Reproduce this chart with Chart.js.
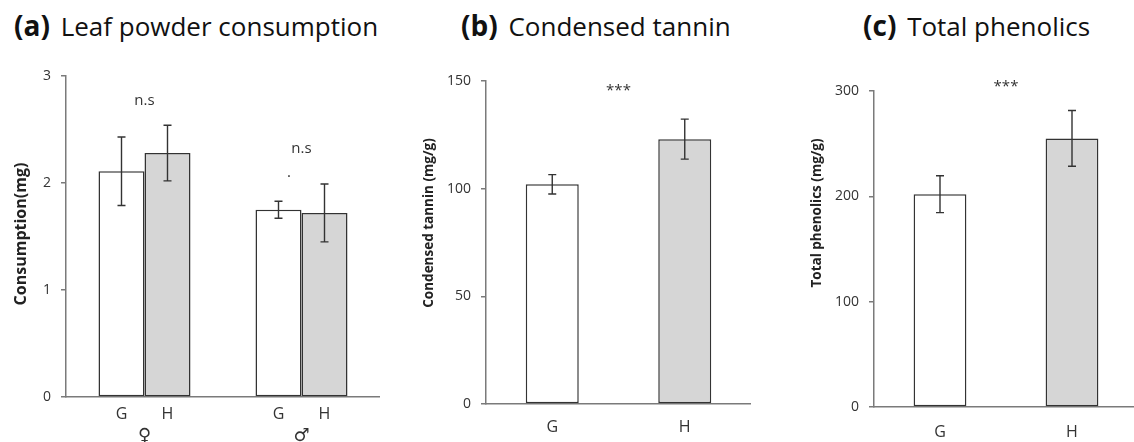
<!DOCTYPE html>
<html>
<head>
<meta charset="utf-8">
<script src="https://cdn.jsdelivr.net/npm/chart.js@4.4.1/dist/chart.umd.min.js"></script>
<style>
  html, body { margin: 0; padding: 0; background: #fff; }
  body { width: 1134px; height: 442px; overflow: hidden; position: relative; font-family: "Open Sans", sans-serif; color: #222; }
  canvas { position: absolute; top: 0; }
  .ttl { position: absolute; top: 6px; font-size: 26px; white-space: nowrap; color: #111; }
  .ttl b { font-weight: 700; font-size: 28px; margin-right: 4px; }
</style>
</head>
<body>
<div class="ttl" style="left:14px"><b>(a)</b> Leaf powder consumption</div>
<div class="ttl" style="left:461px"><b>(b)</b> Condensed tannin</div>
<div class="ttl" style="left:863px"><b>(c)</b> Total phenolics</div>
<canvas id="chartA" width="380" height="442" style="left:0"></canvas>
<canvas id="chartB" width="371" height="442" style="left:380px"></canvas>
<canvas id="chartC" width="378" height="442" style="left:760px"></canvas>
<script>
// (a) consumption by sex, G vs H
const sexes = ["\u2640", "\u2642"];
const consumptionG = [2.11, 1.75];
const consumptionGErr = [0.32, 0.08];
const consumptionH = [2.28, 1.72];
const consumptionHErr = [0.26, 0.27];
const sigA = ["n.s", "n.s"];

// (b), (c)
const treatments = ["G", "H"];
const tannin = [102, 123];
const tanninErr = [4.5, 9.3];
const phenolics = [202, 255];
const phenolicsErr = [17.5, 26.5];
const sigBC = "***";

const axisColor = "#7a7a7a";
const barLine = "#333333";
const grayFill = "#d6d6d6";

Chart.defaults.font.family = "\"Open Sans\", sans-serif";
Chart.defaults.color = "#333";

const errorBars = {
  id: "errorBars",
  afterDatasetsDraw(chart) {
    const { ctx, scales: { y } } = chart;
    ctx.save();
    ctx.strokeStyle = "#333";
    ctx.lineWidth = 1.4;
    chart.data.datasets.forEach((ds, i) => {
      chart.getDatasetMeta(i).data.forEach((bar, j) => {
        const v = ds.data[j], e = ds.errors[j];
        const top = y.getPixelForValue(v + e);
        const bot = y.getPixelForValue(v - e);
        ctx.beginPath();
        ctx.moveTo(bar.x, top); ctx.lineTo(bar.x, bot);
        ctx.moveTo(bar.x - 4, top); ctx.lineTo(bar.x + 4, top);
        ctx.moveTo(bar.x - 4, bot); ctx.lineTo(bar.x + 4, bot);
        ctx.stroke();
      });
    });
    ctx.restore();
  }
};

// significance text, placed in data units
const sigMarks = {
  id: "sigMarks",
  afterDraw(chart, args, opts) {
    const { ctx, scales: { x, y } } = chart;
    ctx.save();
    ctx.textAlign = "center";
    ctx.textBaseline = "middle";
    ctx.fillStyle = "#333";
    (opts.marks || []).forEach((m) => {
      ctx.font = m.font || "15px \"Open Sans\"";
      ctx.fillText(m.text, x.getPixelForValue(m.at), y.getPixelForValue(m.value));
    });
    ctx.restore();
  }
};

// dataset names under each bar (panel a)
const barNames = {
  id: "barNames",
  afterDraw(chart, args, opts) {
    if (!opts.show) return;
    const { ctx, chartArea } = chart;
    ctx.save();
    ctx.textAlign = "center";
    ctx.textBaseline = "middle";
    ctx.fillStyle = "#333";
    ctx.font = "16px \"Open Sans\"";
    chart.data.datasets.forEach((ds, i) => {
      chart.getDatasetMeta(i).data.forEach((bar) => {
        ctx.fillText(ds.label, bar.x, chartArea.bottom + 17);
      });
    });
    ctx.restore();
  }
};

// rotated y title
const sideTitle = {
  id: "sideTitle",
  afterDraw(chart, args, opts) {
    if (!opts.text) return;
    const { ctx } = chart;
    ctx.save();
    ctx.translate(opts.x, opts.y);
    ctx.rotate(-Math.PI / 2);
    ctx.textAlign = "center";
    ctx.textBaseline = "middle";
    ctx.fillStyle = "#222";
    ctx.font = opts.font;
    ctx.fillText(opts.text, 0, 0);
    ctx.restore();
  }
};

function yScale(max, step, width) {
  return {
    min: 0,
    max: max,
    afterFit(scale) { scale.width = width; },
    ticks: { stepSize: step, padding: 10, font: { size: 14 }, color: "#333" },
    grid: { drawOnChartArea: false, drawTicks: true, tickLength: 5, color: axisColor, lineWidth: 1.5 },
    border: { color: axisColor, width: 1.5 }
  };
}

function xScale(height, pad, font) {
  return {
    afterFit(scale) { scale.height = height; },
    ticks: { padding: pad, font: font, color: "#333" },
    grid: { display: false, drawTicks: false, tickLength: 0 },
    border: { color: axisColor, width: 1.5 }
  };
}

const commonBar = { borderColor: barLine, borderWidth: 1.5, borderSkipped: false };

new Chart(document.getElementById("chartA"), {
  type: "bar",
  data: {
    labels: sexes,
    datasets: [
      Object.assign({ label: "G", data: consumptionG, errors: consumptionGErr, backgroundColor: "#ffffff" }, commonBar),
      Object.assign({ label: "H", data: consumptionH, errors: consumptionHErr, backgroundColor: grayFill }, commonBar)
    ]
  },
  options: {
    responsive: false,
    animation: false,
    layout: { padding: { top: 76, left: 0, right: 0, bottom: 0 } },
    categoryPercentage: 0.586,
    barPercentage: 1,
    plugins: {
      legend: { display: false },
      tooltip: { enabled: false },
      barNames: { show: true },
      sideTitle: { text: "Consumption(mg)", x: 21, y: 234, font: "bold 16px \"Open Sans\"" },
      sigMarks: {
        marks: [
          { text: sigA[0], at: 0, value: 2.77 },
          { text: sigA[1], at: 1, value: 2.32 },
          { text: ".", at: 0.92, value: 2.1 }
        ]
      }
    },
    scales: {
      x: xScale(45, 29, { size: 18, family: "\"DejaVu Sans\"" }),
      y: yScale(3, 1, 66)
    }
  },
  plugins: [errorBars, sigMarks, barNames, sideTitle]
});

function singlePanel(id, values, errs, max, step, yW, top, xH, xPad, title, titleX, titleY, sigValue) {
  return new Chart(document.getElementById(id), {
    type: "bar",
    data: {
      labels: treatments,
      datasets: [Object.assign({
        label: title,
        data: values,
        errors: errs,
        backgroundColor: ["#ffffff", grayFill]
      }, commonBar)]
    },
    options: {
      responsive: false,
      animation: false,
      layout: { padding: { top: top, left: 0, right: 0, bottom: 0 } },
      categoryPercentage: 0.4,
      barPercentage: 1,
      plugins: {
        legend: { display: false },
        tooltip: { enabled: false },
        sideTitle: { text: title, x: titleX, y: titleY, font: "bold 13.5px \"Open Sans\"" },
        sigMarks: { marks: [{ text: sigBC, at: 0.5, value: sigValue, font: "15px \"Open Sans\"" }] }
      },
      scales: {
        x: xScale(xH, xPad, { size: 16 }),
        y: yScale(max, step, yW)
      }
    },
    plugins: [errorBars, sigMarks, sideTitle]
  });
}

singlePanel("chartB", tannin, tanninErr, 150, 50, 106, 81, 38, 14, "Condensed tannin (mg/g)", 49, 223, 145.5);
singlePanel("chartC", phenolics, phenolicsErr, 300, 100, 114, 91, 35, 16, "Total phenolics (mg/g)", 57, 213, 304);
</script>
</body>
</html>
